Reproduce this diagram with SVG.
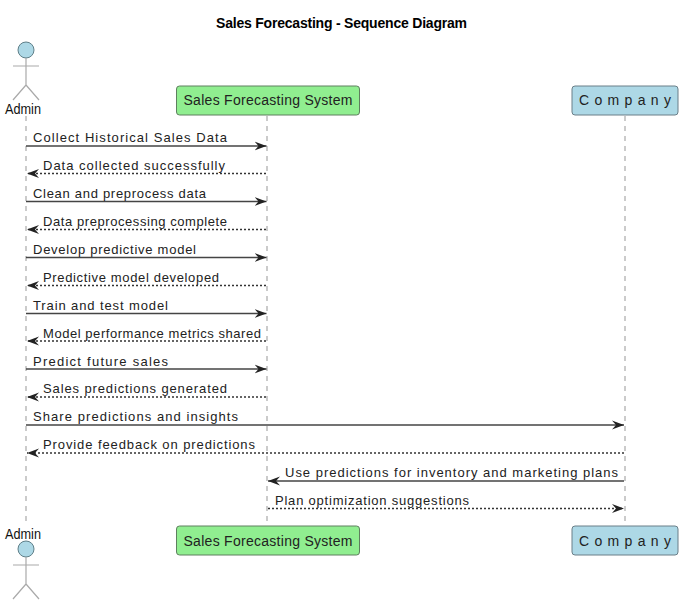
<svg xmlns="http://www.w3.org/2000/svg" width="684" height="606" viewBox="0 0 684 606">
<style>
text{font-family:"Liberation Sans",Arial,sans-serif;fill:#111}
.t{font-size:14px;font-weight:bold;fill:#000}
.m{font-size:13px;fill:#222}
.n{font-size:14px;fill:#222}
.a{font-size:14px;fill:#111}
.life{stroke:#bbb;stroke-width:1.5;stroke-dasharray:5 5;fill:none}
.s{stroke:#444;stroke-width:1.4;fill:none}
.d{stroke:#333;stroke-width:1.3;stroke-dasharray:2 2;fill:none}
.g{fill:#90ee90;stroke:#5f7f5f;stroke-width:1}
.b{fill:#add8e6;stroke:#6a7f88;stroke-width:1}
.lim{stroke:#aaa;stroke-width:1.2;fill:none}
.head{fill:#add8e6;stroke:#5f7f88;stroke-width:1}
</style>
<defs>
<marker id="ar" markerUnits="userSpaceOnUse" markerWidth="13" markerHeight="11" refX="12" refY="5.5" orient="auto-start-reverse"><path d="M0,1L12,5.5L0,10L4,5.5Z" fill="#222"/></marker>
<g id="actor"><circle class="head" cx="26" cy="0" r="8"/><path class="lim" d="M26,8V35M13,16H39M26,35L13,50M26,35L39,50"/></g>
</defs>
<text class="t" x="341.500" y="28" text-anchor="middle" textLength="251">Sales Forecasting - Sequence Diagram</text>
<g id="lifelines">
<path class="life" d="M26,116V526"/>
<path class="life" d="M267,116V526"/>
<path class="life" d="M625,116V526"/>
</g>
<g id="connectors">
<path class="s" marker-end="url(#ar)" d="M26,146H266.500"/>
<path class="d" marker-end="url(#ar)" d="M266,173.500H27"/>
<path class="s" marker-end="url(#ar)" d="M26,201.500H266.500"/>
<path class="d" marker-end="url(#ar)" d="M266,229.500H27"/>
<path class="s" marker-end="url(#ar)" d="M26,257.500H266.500"/>
<path class="d" marker-end="url(#ar)" d="M266,285.500H27"/>
<path class="s" marker-end="url(#ar)" d="M26,313.500H266.500"/>
<path class="d" marker-end="url(#ar)" d="M266,341H27"/>
<path class="s" marker-end="url(#ar)" d="M26,369H266.500"/>
<path class="d" marker-end="url(#ar)" d="M266,397H27"/>
<path class="s" marker-end="url(#ar)" d="M26,425H624"/>
<path class="d" marker-end="url(#ar)" d="M624,453H27"/>
<path class="s" marker-end="url(#ar)" d="M624,481H268"/>
<path class="d" marker-end="url(#ar)" d="M268,508.500H624"/>
</g>
<g id="labels">
<text class="m" x="33" y="142" textLength="194">Collect Historical Sales Data</text>
<text class="m" x="43" y="170" textLength="182">Data collected successfully</text>
<text class="m" x="33" y="198" textLength="173">Clean and preprocess data</text>
<text class="m" x="43" y="226" textLength="184">Data preprocessing complete</text>
<text class="m" x="33" y="254" textLength="163">Develop predictive model</text>
<text class="m" x="43" y="282" textLength="176">Predictive model developed</text>
<text class="m" x="33" y="310" textLength="135">Train and test model</text>
<text class="m" x="43" y="338" textLength="218">Model performance metrics shared</text>
<text class="m" x="33" y="366" textLength="135">Predict future sales</text>
<text class="m" x="43" y="393" textLength="184">Sales predictions generated</text>
<text class="m" x="33" y="421" textLength="205">Share predictions and insights</text>
<text class="m" x="43" y="449" textLength="212">Provide feedback on predictions</text>
<text class="m" x="285" y="477" textLength="333">Use predictions for inventory and marketing plans</text>
<text class="m" x="275" y="505" textLength="194">Plan optimization suggestions</text>
</g>
<g id="admin-top"><use href="#actor" y="50"/><text class="a" x="5" y="114" textLength="36" lengthAdjust="spacingAndGlyphs">Admin</text></g>
<g id="system-top"><rect class="g" x="176.500" y="86" width="183" height="29" rx="3"/><text class="n" x="268" y="105" text-anchor="middle" textLength="169">Sales Forecasting System</text></g>
<g id="company-top"><rect class="b" x="572" y="86" width="106" height="29" rx="3"/><text class="n" x="579" y="105" textLength="92">C o m p a n y</text></g>
<g id="admin-bottom"><text class="a" x="5" y="539" textLength="36" lengthAdjust="spacingAndGlyphs">Admin</text><use href="#actor" y="549"/></g>
<g id="system-bottom"><rect class="g" x="176.500" y="526" width="183" height="29" rx="3"/><text class="n" x="268" y="546" text-anchor="middle" textLength="169">Sales Forecasting System</text></g>
<g id="company-bottom"><rect class="b" x="572" y="526" width="106" height="29" rx="3"/><text class="n" x="579" y="546" textLength="92">C o m p a n y</text></g>
</svg>
